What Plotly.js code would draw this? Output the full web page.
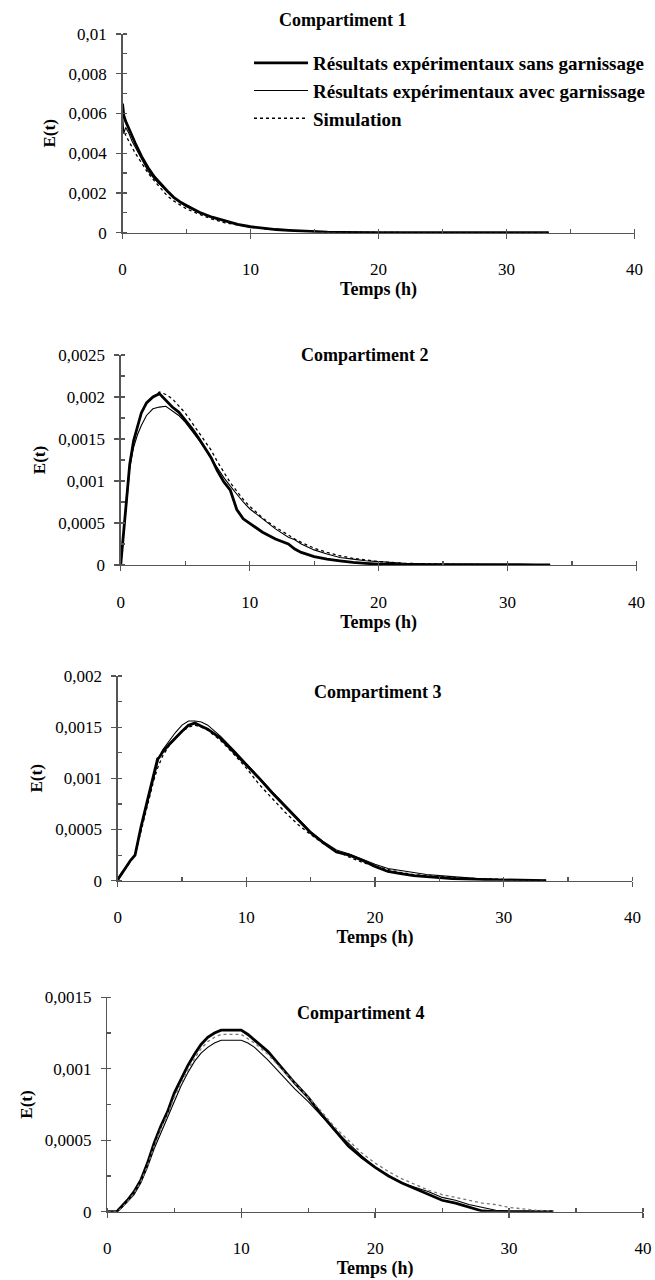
<!DOCTYPE html>
<html>
<head>
<meta charset="utf-8">
<script src="https://cdn.plot.ly/plotly-3.0.1.min.js"></script>
<style>html,body{margin:0;padding:0;background:#fff;}#chart{width:655px;height:1280px;}</style>
</head>
<body>
<div id="chart"></div>
<script>
// ---------- DATA ----------
const seriesNames = ["Résultats expérimentaux sans garnissage", "Résultats expérimentaux avec garnissage", "Simulation"];
const panelTitles = ["Compartiment 1", "Compartiment 2", "Compartiment 3", "Compartiment 4"];
const xTickVals = [0, 10, 20, 30, 40];
const xTickText = ["0", "10", "20", "30", "40"];

// Compartiment 1
const t1 = [0, 0.1, 0.25, 0.5, 0.75, 1, 1.5, 2, 2.5, 3, 3.5, 4, 4.5, 5, 6, 7, 8, 9, 10, 11, 12, 13, 14, 15, 16, 17, 18, 20, 25, 30, 33.3];
const c1Sans = [0.0065, 0.0059, 0.0056, 0.0052, 0.0048, 0.0045, 0.00383, 0.00327, 0.0028, 0.00244, 0.0021, 0.00178, 0.00155, 0.00137, 0.00103, 0.00078, 0.00059, 0.00042, 0.0003, 0.00022, 0.00016, 0.00012, 0.00008, 0.00005, 0.00003, 0.00002, 0.00001, 0.000005, 0, 0, 0];
const c1Avec = [0.0060, 0.0050, 0.0053, 0.0050, 0.0046, 0.0043, 0.0037, 0.0031, 0.0027, 0.00235, 0.00205, 0.00175, 0.0015, 0.0013, 0.001, 0.00075, 0.00057, 0.00041, 0.0003, 0.00022, 0.00016, 0.00012, 0.00009, 0.00006, 0.00004, 0.00002, 0.00001, 0.000005, 0, 0, 0];
const c1Sim = [0.0053, 0.0051, 0.0049, 0.0046, 0.0043, 0.0040, 0.0035, 0.0030, 0.0026, 0.00225, 0.00185, 0.0016, 0.0014, 0.0012, 0.00093, 0.00068, 0.0005, 0.00038, 0.00028, 0.0002, 0.00015, 0.00011, 0.00008, 0.00006, 0.00004, 0.00003, 0.00002, 0.00001, 0.000002, 0, 0];
const y1TickVals = [0, 0.002, 0.004, 0.006, 0.008, 0.01];
const y1TickText = ["0", "0,002", "0,004", "0,006", "0,008", "0,01"];

// Compartiment 2
const t2 = [0, 0.2, 0.4, 0.7, 1, 1.3, 1.6, 2, 2.5, 3, 3.5, 4, 4.5, 5, 5.5, 6, 6.5, 7, 7.5, 8, 8.5, 9, 9.5, 10, 11, 12, 13, 13.5, 14, 15, 16, 17, 18, 19, 20, 22, 24, 26, 28, 30, 31, 33.3];
const c2Sans = [0, 0.00035, 0.0007, 0.0012, 0.00148, 0.00166, 0.00181, 0.00193, 0.002, 0.00204, 0.00196, 0.00188, 0.00182, 0.00173, 0.00163, 0.00152, 0.0014, 0.00128, 0.00112, 0.00099, 0.00089, 0.00066, 0.00055, 0.0005, 0.00039, 0.00031, 0.00025, 0.00019, 0.00015, 0.0001, 0.00007, 0.00005, 0.00003, 0.00002, 0.00001, 0.000005, 0.000003, 0.000002, 0.000001, 0, 0, 0];
const c2Avec = [0, 0.00035, 0.0007, 0.00118, 0.0014, 0.00155, 0.00166, 0.00178, 0.00186, 0.00188, 0.00189, 0.00183, 0.00178, 0.0017, 0.0016, 0.0015, 0.0014, 0.00127, 0.00115, 0.00104, 0.00094, 0.00084, 0.00075, 0.00067, 0.00055, 0.00043, 0.00033, 0.0003, 0.00025, 0.00018, 0.00013, 0.00009, 0.00007, 0.00005, 0.00004, 0.00002, 0.00001, 0.00001, 0.00001, 0.00001, 0.00001, 0];
const c2Sim = [0, 0.0003, 0.00065, 0.00115, 0.00145, 0.00165, 0.0018, 0.00192, 0.002, 0.00206, 0.00203, 0.00198, 0.0019, 0.00181, 0.0017, 0.00159, 0.00148, 0.00137, 0.00123, 0.0011, 0.00098, 0.00088, 0.00078, 0.0007, 0.00056, 0.00045, 0.00035, 0.00031, 0.00027, 0.0002, 0.00015, 0.00011, 0.00008, 0.00006, 0.00004, 0.00002, 0.00001, 0.000008, 0.000005, 0.000003, 0.000002, 0.000001];
const y2TickVals = [0, 0.0005, 0.001, 0.0015, 0.002, 0.0025];
const y2TickText = ["0", "0,0005", "0,001", "0,0015", "0,002", "0,0025"];

// Compartiment 3
const t3 = [0, 0.3, 0.7, 1, 1.35, 1.8, 2.3, 2.8, 3.1, 3.2, 3.5, 4, 4.5, 5, 5.5, 6, 6.5, 7, 8, 9, 10, 11, 12, 13, 14, 15, 16, 17, 18, 19, 20, 21, 22, 23, 24, 26, 28, 30, 32, 33.3];
const c3Sans = [0.00001, 0.00007, 0.00014, 0.0002, 0.00025, 0.00052, 0.00078, 0.00103, 0.00119, 0.0012, 0.00126, 0.00133, 0.0014, 0.00146, 0.00152, 0.00154, 0.00151, 0.00148, 0.00139, 0.00126, 0.00114, 0.001, 0.00086, 0.00073, 0.0006, 0.00047, 0.00037, 0.00028, 0.00025, 0.0002, 0.00014, 0.00009, 0.00007, 0.00005, 0.00004, 0.00002, 0.000012, 0.000007, 0.000003, 0];
const c3Avec = [0.00002, 0.00008, 0.00014, 0.0002, 0.00026, 0.0005, 0.00076, 0.001, 0.00115, 0.0012, 0.00128, 0.00137, 0.00145, 0.00152, 0.00156, 0.00156, 0.00155, 0.00152, 0.00141, 0.00128, 0.00115, 0.00101, 0.00087, 0.00074, 0.00061, 0.00048, 0.00038, 0.0003, 0.00026, 0.00021, 0.00016, 0.00012, 0.0001, 0.00008, 0.00006, 0.00004, 0.00002, 0.00001, 0.000005, 0];
const c3Sim = [0, 0.00006, 0.00013, 0.00019, 0.00025, 0.00048, 0.00074, 0.00098, 0.0011, 0.00113, 0.00122, 0.00132, 0.0014, 0.00146, 0.0015, 0.00152, 0.0015, 0.00147, 0.00137, 0.00124, 0.0011, 0.00094, 0.0008, 0.00067, 0.00055, 0.00045, 0.00036, 0.00029, 0.00023, 0.00018, 0.00014, 0.00011, 0.00008, 0.00006, 0.00005, 0.00003, 0.00002, 0.00001, 0.000005, 0.000003];
const y3TickVals = [0, 0.0005, 0.001, 0.0015, 0.002];
const y3TickText = ["0", "0,0005", "0,001", "0,0015", "0,002"];

// Compartiment 4
const t4 = [0, 0.7, 1, 1.5, 2, 2.5, 3, 3.5, 4, 4.5, 5, 5.5, 6, 6.5, 7, 7.5, 8, 8.5, 9, 9.5, 10, 10.5, 11, 12, 13, 14, 15, 16, 17, 18, 19, 20, 21, 22, 23, 24, 25, 26, 27, 28, 29, 30, 31, 32, 33.3];
const c4Sans = [0, 0, 0.00003, 0.00008, 0.00014, 0.00022, 0.00034, 0.00048, 0.0006, 0.0007, 0.00083, 0.00093, 0.00102, 0.0011, 0.00117, 0.00122, 0.00125, 0.00127, 0.00127, 0.00127, 0.00127, 0.00124, 0.0012, 0.00112, 0.00101, 0.0009, 0.0008, 0.00068, 0.00057, 0.00046, 0.00038, 0.00031, 0.00025, 0.0002, 0.00016, 0.00012, 0.00008, 0.00006, 0.00003, 0.000005, 0, 0, 0, 0, 0];
const c4Avec = [0, 0, 0.00002, 0.00007, 0.00012, 0.0002, 0.00031, 0.00044, 0.00055, 0.00066, 0.00078, 0.00088, 0.00097, 0.00105, 0.00111, 0.00115, 0.00118, 0.0012, 0.0012, 0.0012, 0.0012, 0.00118, 0.00115, 0.00106, 0.00096, 0.00086, 0.00077, 0.00067, 0.00057, 0.00048, 0.00039, 0.00031, 0.00025, 0.0002, 0.00017, 0.00014, 0.0001, 0.00008, 0.00005, 0.00003, 0.00001, 0.000005, 0.000005, 0.000005, 0.000003];
const c4Sim = [0, 0, 0.00002, 0.00007, 0.00013, 0.00021, 0.00032, 0.00046, 0.00058, 0.00068, 0.0008, 0.0009, 0.00099, 0.00107, 0.00114, 0.00119, 0.00122, 0.00124, 0.00124, 0.00124, 0.00124, 0.00121, 0.00118, 0.0011, 0.001, 0.0009, 0.0008, 0.0007, 0.00059, 0.0005, 0.00041, 0.00034, 0.00028, 0.00023, 0.00019, 0.00015, 0.00012, 0.0001, 0.00008, 0.00006, 0.00005, 0.00003, 0.00002, 0.00001, 0.000005];
const y4TickVals = [0, 0.0005, 0.001, 0.0015];
const y4TickText = ["0", "0,0005", "0,001", "0,0015"];

// ---------- LAYOUT / STYLE ----------
const W = 655, H = 1280;
const panels = [
  {t: t1, s: [c1Sans, c1Avec, c1Sim], yMax: 0.01, yMinor: 0.001, tv: y1TickVals, tt: y1TickText, px: [122.5, 634.5], py: [34, 232.7], title: [342, 20], simColor: "#000"},
  {t: t2, s: [c2Sans, c2Avec, c2Sim], yMax: 0.0025, yMinor: 0.00025, tv: y2TickVals, tt: y2TickText, px: [120.7, 636.5], py: [355, 565], title: [364, 355], simColor: "#000"},
  {t: t3, s: [c3Sans, c3Avec, c3Sim], yMax: 0.002, yMinor: 0.00025, tv: y3TickVals, tt: y3TickText, px: [117.7, 632.4], py: [676, 880.7], title: [377, 692], simColor: "#000"},
  {t: t4, s: [c4Sans, c4Avec, c4Sim], yMax: 0.0015, yMinor: 0.00025, tv: y4TickVals, tt: y4TickText, px: [107.3, 643], py: [997.3, 1211.7], title: [360, 1013], simColor: "#777"}
];

const axisColor = "#555";
const serif = "Liberation Serif, Times New Roman, serif";
const traces = [];
const layout = {
  width: W, height: H,
  margin: {l: 0, r: 0, t: 0, b: 0},
  paper_bgcolor: "#fff", plot_bgcolor: "rgba(0,0,0,0)",
  font: {family: serif, color: "#000", size: 17},
  showlegend: true,
  legend: {
    x: 249 / W, y: 1 - 44 / H, xanchor: "left", yanchor: "top",
    bgcolor: "rgba(0,0,0,0)", borderwidth: 0,
    font: {family: serif, size: 19, color: "#000", weight: "bold"},
    itemwidth: 54, tracegroupgap: 0
  },
  annotations: [],
  hovermode: false
};

panels.forEach((p, i) => {
  const n = i + 1;
  const xs = n === 1 ? "x" : "x" + n;
  const ys = n === 1 ? "y" : "y" + n;
  const xd = [p.px[0] / W, p.px[1] / W];
  const yd = [1 - p.py[1] / H, 1 - p.py[0] / H];
  const styles = [
    {color: "#000", width: 2.8, dash: "solid"},
    {color: "#000", width: 1.1, dash: "solid"},
    {color: p.simColor, width: 1.3, dash: "dot"}
  ];
  p.s.forEach((vals, k) => {
    traces.push({
      type: "scatter", mode: "lines", x: p.t, y: vals,
      xaxis: xs, yaxis: ys, name: seriesNames[k],
      showlegend: n === 1, line: styles[k], cliponaxis: false
    });
  });
  layout["xaxis" + (n === 1 ? "" : n)] = {
    domain: xd, anchor: ys, range: [0, 40], fixedrange: true,
    showgrid: false, zeroline: false, showline: true, linecolor: axisColor, linewidth: 1.3,
    tickmode: "array", tickvals: xTickVals, ticktext: xTickText,
    ticks: "outside", ticklen: 5, tickwidth: 1.3, tickcolor: axisColor,
    ticklabelstandoff: 16,
    tickfont: {family: serif, size: 17, color: "#000"},
    minor: {tickmode: "linear", tick0: 0, dtick: 5, ticks: "inside", ticklen: 4, tickwidth: 1.2, tickcolor: axisColor, showgrid: false},
    title: {text: "Temps (h)", font: {family: serif, size: 18, color: "#000", weight: "bold"}, standoff: 0}
  };
  // overlay axis to make major x ticks cross the axis line
  layout["xaxis" + (n + 4)] = {
    domain: xd, anchor: ys, overlaying: xs, range: [0, 40], fixedrange: true,
    showgrid: false, zeroline: false, showline: false, showticklabels: false,
    tickmode: "array", tickvals: xTickVals,
    ticks: "inside", ticklen: 4, tickwidth: 1.3, tickcolor: axisColor
  };
  layout["yaxis" + (n === 1 ? "" : n)] = {
    domain: yd, anchor: xs, range: [0, p.yMax], fixedrange: true,
    showgrid: false, zeroline: false, showline: true, linecolor: axisColor, linewidth: 1.3,
    tickmode: "array", tickvals: p.tv, ticktext: p.tt,
    ticks: "outside", ticklen: 5, tickwidth: 1.3, tickcolor: axisColor,
    ticklabelstandoff: 6,
    tickfont: {family: serif, size: 17, color: "#000"},
    minor: {tickmode: "linear", tick0: 0, dtick: p.yMinor, ticks: "inside", ticklen: 4, tickwidth: 1.2, tickcolor: axisColor, showgrid: false},
    title: {text: "E(t)", font: {family: serif, size: 17, color: "#000", weight: "bold"}, standoff: 8}
  };
  layout.annotations.push({
    xref: "paper", yref: "paper", x: p.title[0] / W, y: 1 - p.title[1] / H,
    xanchor: "center", yanchor: "middle", showarrow: false,
    text: panelTitles[i], font: {family: serif, size: 18, color: "#000", weight: "bold"}
  });
});

Plotly.newPlot("chart", traces, layout, {staticPlot: true, displayModeBar: false});
</script>
</body>
</html>
